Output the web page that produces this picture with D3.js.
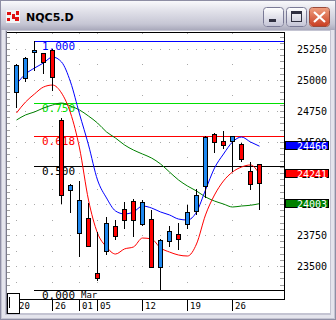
<!DOCTYPE html>
<html>
<head>
<meta charset="utf-8">
<script src="https://cdn.jsdelivr.net/npm/d3@7"></script>
<style>
body{margin:0;background:#fff;}
svg{display:block;}
</style>
</head>
<body>
<script>
// daily candles, Feb 20 .. Mar 31
let days=["02-20","02-21","02-24","02-25","02-26","02-27","02-28","03-03","03-04","03-05","03-06","03-07","03-10","03-11","03-12","03-13","03-14","03-17","03-18","03-19","03-20","03-21","03-24","03-25","03-26","03-27","03-28","03-31"];
let opens =[24905,25018,25223,25215,25241,24677,24111,23764,23885,23444,23619,23820,23957,24024,23841,23879,23495,23702,23758,23836,23941,24143,24562,24508,24506,24484,24266,24320];
let highs =[25129,25185,25314,25220,25250,24696,24160,24186,24006,23777,23898,23871,24014,24041,24032,23952,23715,23825,23847,23992,24119,24548,24570,24589,24550,24490,24336,24325];
let lows  =[24784,24994,25080,25054,24919,24011,23938,23581,23660,23390,23600,23721,23809,23745,23833,23490,23307,23664,23635,23804,23920,24054,24417,24449,24269,24349,24119,23958];
let closes=[25121,25179,25241,25142,25026,24070,24153,24030,23664,23401,23847,23740,23869,23869,24014,23495,23710,23783,23716,23936,24070,24543,24502,24478,24548,24361,24159,24167];

let maBlue =[24967,25048,25096,25137,25185,25145,24984,24726,24476,24194,24049,23944,23920,23936,23984,23968,23936,23912,23879,23871,23936,24113,24290,24403,24500,24540,24500,24466];
let maRed  =[24734,24822,24887,24943,24959,24895,24734,24452,24032,23766,23654,23597,23638,23654,23726,23718,23646,23613,23589,23581,23678,23912,24073,24186,24258,24298,24315,24241];
let maGreen=[24677,24718,24742,24774,24798,24814,24790,24758,24709,24653,24581,24532,24476,24435,24403,24371,24323,24258,24194,24145,24105,24057,24024,24000,23976,23984,23990,24003];

let fibRatios=[1,0.75,0.618,0.5,0];
let fibColors=["#0000ff","#00e000","#ff0000","#000","#000"];
let priceTicks=[23500,23750,24000,24250,24500,24750,25000,25250];
let tickIdx=[0,4,7,9,14,19,24];
let tickLab=["20","26","01","05","12","19","26"];

let W=336,H=320;
let svg=d3.select("body").append("svg").attr("width",W).attr("height",H);
let defs=svg.append("defs");

// ---- window chrome ----
let tg=defs.append("linearGradient").attr("id","tbar").attr("x1",0).attr("y1",0).attr("x2",0).attr("y2",1);
tg.append("stop").attr("offset","0%").attr("stop-color","#fbfbfd");
tg.append("stop").attr("offset","35%").attr("stop-color","#e2e2ea");
tg.append("stop").attr("offset","80%").attr("stop-color","#c6c6d4");
tg.append("stop").attr("offset","100%").attr("stop-color","#a9a9bb");
let bg=defs.append("linearGradient").attr("id","btn").attr("x1",0).attr("y1",0).attr("x2",0).attr("y2",1);
bg.append("stop").attr("offset","0%").attr("stop-color","#ffffff");
bg.append("stop").attr("offset","100%").attr("stop-color","#c4c4d6");
let cg=defs.append("linearGradient").attr("id","cbtn").attr("x1",0).attr("y1",0).attr("x2",0).attr("y2",1);
cg.append("stop").attr("offset","0%").attr("stop-color","#f0a080");
cg.append("stop").attr("offset","100%").attr("stop-color","#c83c20");

svg.append("rect").attr("width",W).attr("height",H).attr("fill","#c4c4d2");
svg.append("rect").attr("x",0).attr("y",0).attr("width",W).attr("height",30).attr("fill","url(#tbar)");
svg.append("rect").attr("x",0.5).attr("y",0.5).attr("width",W-1).attr("height",H-1).attr("fill","none").attr("stroke","#8e8ea4");
svg.append("rect").attr("x",2).attr("y",30).attr("width",3).attr("height",H-33).attr("fill","#e4e4ec");
svg.append("rect").attr("x",W-5).attr("y",30).attr("width",3).attr("height",H-33).attr("fill","#e4e4ec");
svg.append("rect").attr("x",2).attr("y",H-5).attr("width",W-4).attr("height",3).attr("fill","#e4e4ec");

// icon
svg.append("rect").attr("x",6).attr("y",10).attr("width",14).attr("height",13).attr("fill","#f4f4f4");
[[7,12,4,3],[12,14,3,5],[16,11,3,4],[7,18,3,3],[15,17,4,4]].forEach(r=>{
  svg.append("rect").attr("x",r[0]).attr("y",r[1]).attr("width",r[2]).attr("height",r[3]).attr("fill","#e01010");
});
svg.append("text").text("NQC5.D").attr("x",26).attr("y",21)
  .style("font","bold 11px 'DejaVu Sans'").attr("fill","#000");

// buttons
function btn(x,fill){
  return svg.append("rect").attr("x",x+0.5).attr("y",7.5).attr("width",20).attr("height",19).attr("rx",3)
    .attr("fill",fill).attr("stroke","#fff").attr("stroke-width",1);
}
btn(263,"url(#btn)");
svg.append("rect").attr("x",263.5).attr("y",7.5).attr("width",20).attr("height",19).attr("rx",3).attr("fill","none").attr("stroke","#7a7a96");
svg.append("rect").attr("x",269).attr("y",19).attr("width",7).attr("height",3).attr("fill","#303040");
btn(286,"url(#btn)");
svg.append("rect").attr("x",286.5).attr("y",7.5).attr("width",20).attr("height",19).attr("rx",3).attr("fill","none").attr("stroke","#7a7a96");
svg.append("rect").attr("x",291.5).attr("y",11.5).attr("width",10).attr("height",10).attr("fill","none").attr("stroke","#303040").attr("stroke-width",1);
svg.append("rect").attr("x",291).attr("y",11).attr("width",11).attr("height",3).attr("fill","#303040");
btn(309,"url(#cbtn)");
svg.append("rect").attr("x",309.5).attr("y",7.5).attr("width",20).attr("height",19).attr("rx",3).attr("fill","none").attr("stroke","#9a4a3a");
svg.append("path").attr("d","M314,12L325,22M325,12L314,22").attr("stroke","#fff").attr("stroke-width",2.2);

// client area
svg.append("rect").attr("x",7).attr("y",31).attr("width",323).attr("height",282).attr("fill","#fff");
svg.append("line").attr("x1",6.5).attr("x2",6.5).attr("y1",31).attr("y2",314).attr("stroke","#7a7a8a");

// ---- chart ----
let x=d3.scaleLinear().domain([0,days.length-1]).range([16,259]);
let lo=d3.min(lows),hi=d3.max(highs);
let y=d3.scaleLinear().domain([lo,hi]).range([290,41]);
let px=v=>Math.round(x(v));
let py=v=>Math.round(y(v));

let plot=svg.append("g");
// dotted grid
let rows=plot.append("g");
priceTicks.forEach(p=>{
  d3.range(0,30).forEach(k=>{
    rows.append("rect").attr("x",px(k)).attr("y",py(p)).attr("width",1).attr("height",1).attr("fill","#a8a8a8");
  });
});
tickIdx.forEach(i=>{
  d3.range(23375,25400,250).forEach(p=>{
    rows.append("rect").attr("x",px(i)).attr("y",py(p)).attr("width",1).attr("height",1).attr("fill","#a8a8a8");
  });
});
// minor ticks on both edges
d3.range(23350,25400,50).forEach(p=>{
  if(py(p)<34||py(p)>297)return;
  plot.append("line").attr("x1",7).attr("x2",10).attr("y1",py(p)+0.5).attr("y2",py(p)+0.5).attr("stroke","#a0a0a0");
  plot.append("line").attr("x1",280).attr("x2",284).attr("y1",py(p)+0.5).attr("y2",py(p)+0.5).attr("stroke","#a0a0a0");
});

// fibonacci levels
let iHi=highs.indexOf(hi);
fibRatios.forEach((r,j)=>{
  let lv=lo+r*(hi-lo);
  let yy=py(lv)+0.5;
  plot.append("line").attr("x1",px(iHi)).attr("x2",284).attr("y1",yy).attr("y2",yy)
    .attr("stroke",fibColors[j]).attr("stroke-width",1);
  plot.append("text").text(r.toFixed(3)).attr("x",42).attr("y",yy+8.5)
    .style("font","11px 'DejaVu Sans Mono'").attr("fill",fibColors[j]);
});

// moving averages
let line=d3.line().x((d,i)=>x(i)+0.5).y(d=>y(d)).curve(d3.curveMonotoneX);
[[maGreen,"#008000"],[maRed,"#ff0000"],[maBlue,"#0000ff"]].forEach(m=>{
  plot.append("path").attr("d",line(m[0])).attr("fill","none").attr("stroke",m[1]).attr("stroke-width",1);
});

// candles
let cd=days.map((d,i)=>({i:i,o:opens[i],h:highs[i],l:lows[i],c:closes[i]}));
let cg2=plot.append("g");
cg2.selectAll("line").data(cd).enter().append("line")
  .attr("x1",d=>px(d.i)+0.5).attr("x2",d=>px(d.i)+0.5)
  .attr("y1",d=>py(d.h)).attr("y2",d=>py(d.l)+1).attr("stroke","#000");
cg2.selectAll("rect").data(cd).enter().append("rect")
  .attr("x",d=>px(d.i)-1.5).attr("width",4)
  .attr("y",d=>py(Math.max(d.o,d.c))+0.5)
  .attr("height",d=>Math.max(2,py(Math.min(d.o,d.c))-py(Math.max(d.o,d.c))))
  .attr("fill",d=>d.c>=d.o?"#1e88f0":"#ff0000").attr("stroke","#000").attr("stroke-width",1);

// frame
plot.append("line").attr("x1",7).attr("x2",284).attr("y1",32.5).attr("y2",32.5).attr("stroke","#000");
plot.append("line").attr("x1",284.5).attr("x2",284.5).attr("y1",32).attr("y2",300).attr("stroke","#000");
plot.append("line").attr("x1",7).attr("x2",285).attr("y1",299.5).attr("y2",299.5).attr("stroke","#000");

// date axis
tickIdx.forEach((i,j)=>{
  plot.append("line").attr("x1",px(i)+0.5).attr("x2",px(i)+0.5).attr("y1",300).attr("y2",311).attr("stroke","#000");
  plot.append("text").text(tickLab[j]).attr("x",px(i)+3).attr("y",308.5)
    .style("font","9px 'DejaVu Sans Mono'").attr("fill","#000");
});
plot.append("text").text("Mar").attr("x",px(7)+2).attr("y",297.5)
  .style("font","9px 'DejaVu Sans Mono'").attr("fill","#000");
// scroll box
plot.append("rect").attr("x",7.5).attr("y",293.5).attr("width",12).attr("height",20).attr("fill","#fff").attr("stroke","#000");
plot.append("line").attr("x1",9.5).attr("x2",9.5).attr("y1",297).attr("y2",308).attr("stroke","#000");

// price axis
let ax=svg.append("g").attr("transform","translate(327,0)")
  .call(d3.axisRight(y).tickValues(priceTicks).tickSize(0).tickFormat(d3.format("d")));
ax.select(".domain").remove();
ax.selectAll("text").attr("x",0).attr("dy","0.35em").attr("text-anchor","end")
  .style("font","10px 'DejaVu Sans Mono'").attr("fill","#000");

// last-value boxes
[[maBlue,"#0000ff"],[maRed,"#ff0000"],[maGreen,"#008000"]].forEach(m=>{
  let v=m[0][m[0].length-1];
  let yy=py(v);
  svg.append("rect").attr("x",285.5).attr("y",yy-4.5).attr("width",43).attr("height",8)
    .attr("fill",m[1]).attr("stroke","#000").attr("stroke-width",1);
  svg.append("text").text(v).attr("x",327).attr("y",yy+3.5).attr("text-anchor","end")
    .style("font","10px 'DejaVu Sans Mono'").attr("fill","#fff");
});
</script>
</body>
</html>
